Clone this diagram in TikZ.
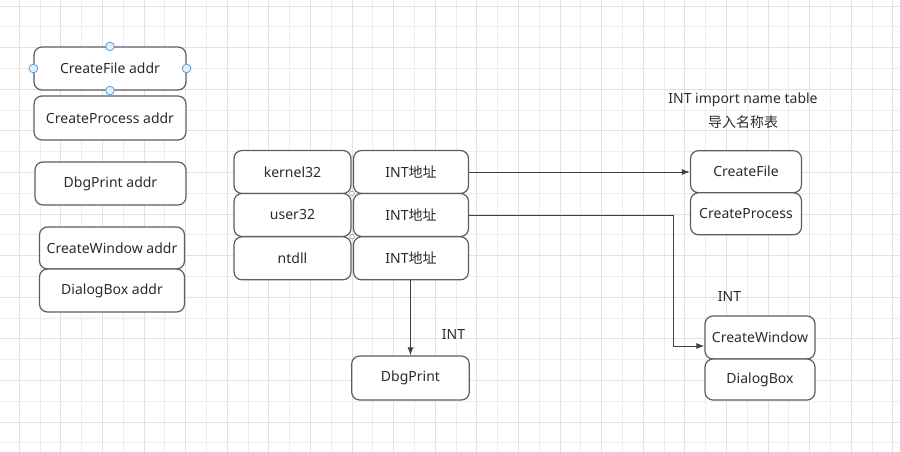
\documentclass[tikz,border=0pt]{standalone}
\usepackage{fontspec}
\setmainfont{Noto Sans}
\newfontfamily\cjk{Noto Sans CJK SC}
\usetikzlibrary{arrows.meta}
\definecolor{gridminor}{HTML}{EDEDED}
\definecolor{gridmajor}{HTML}{E1E1E1}
\definecolor{boxline}{HTML}{5C5C68}
\definecolor{txt}{HTML}{2B2B2B}
\definecolor{handle}{HTML}{5B9BD5}
\definecolor{handlefill}{HTML}{E3F0FC}
\begin{document}
\begin{tikzpicture}[x=0.75pt,y=-0.75pt,
  box/.style={draw=boxline, line width=0.9pt, rounded corners=6pt, fill=white, text=txt,
    font=\fontsize{10.5}{12}\selectfont, inner sep=0pt},
  sz/.style 2 args={minimum width=#1*0.75pt, minimum height=#2*0.75pt},
  conn/.style={draw=black!75, line width=0.7pt, -{Latex[length=6pt,width=4.5pt]}},
  lbl/.style={text=txt, font=\fontsize{10.5}{12}\selectfont, inner sep=0pt},
  hd/.style={circle, draw=handle, fill=handlefill, line width=0.6pt, minimum size=6.5pt, inner sep=0pt},
  cpt/.style={circle, draw=boxline!60, fill=white, line width=0.5pt, minimum size=3.5pt, inner sep=0pt}]
\useasboundingbox (0,0) rectangle (900,452);
\fill[white] (0,0) rectangle (900,452);
% grid
\foreach \k in {0,...,42}{
  \pgfmathsetmacro{\gx}{19.1+20.8*\k}
  \pgfmathtruncatemacro{\ev}{mod(\k,2)}
  \ifnum\ev=0 \draw[gridmajor, line width=0.6pt] (\gx,0) -- (\gx,452);
  \else \draw[gridminor, line width=0.6pt] (\gx,0) -- (\gx,452); \fi
}
\foreach \k in {0,...,21}{
  \pgfmathsetmacro{\gy}{6+20.8*\k}
  \pgfmathtruncatemacro{\ev}{mod(\k,2)}
  \ifnum\ev=0 \draw[gridmajor, line width=0.6pt] (0,\gy) -- (900,\gy);
  \else \draw[gridminor, line width=0.6pt] (0,\gy) -- (900,\gy); \fi
}
% left column
\node[box, sz={152}{43}] (lcf) at (110,68.5) {CreateFile addr};
\node[box, sz={152}{44}] (lcp) at (110,118) {CreateProcess addr};
\node[box, sz={151}{43}] (ldp) at (110.5,183.5) {DbgPrint addr};
\node[box, sz={145}{42}] (lcw) at (112,248) {CreateWindow addr};
\node[box, sz={145}{43}] (ldb) at (112,290.5) {DialogBox addr};
\node[hd] (h1) at (lcf.north) {};
\node[hd] (h2) at (lcf.south) {};
\node[hd] (h3) at (lcf.west) {};
\node[hd] (h4) at (lcf.east) {};
% middle table
\node[box, sz={117}{43}] (k32) at (292.5,172) {kernel32};
\node[box, sz={115}{43}] (kint) at (411,172) {INT{\cjk 地址}};
\node[box, sz={117}{43}] (u32) at (292.5,215) {user32};
\node[box, sz={115}{43}] (uint) at (411,215) {INT{\cjk 地址}};
\node[box, sz={117}{43}] (ntd) at (292.5,258.3) {ntdll};
\node[box, sz={115}{43}] (nint) at (411,258.3) {INT{\cjk 地址}};
\node[cpt] (c1) at (352,193.5) {};
\node[cpt] (c2) at (352,236.7) {};
% bottom
\node[box, sz={117.6}{44}] (dbg) at (410.5,378) {DbgPrint};
\node[lbl] (int1) at (453.5,335) {INT};
% right
\node[lbl] (ttl) at (743,100) {INT import name table};
\node[lbl] (ttl2) at (743,122.5) {\cjk 导入名称表};
\node[box, sz={111}{42}] (rcf) at (746,171.7) {CreateFile};
\node[box, sz={111}{42}] (rcp) at (746,213.8) {CreateProcess};
\node[lbl] (int2) at (729.5,297) {INT};
\node[box, sz={110}{43}] (rcw) at (760,337.5) {CreateWindow};
\node[box, sz={110}{41}] (rdb) at (760,379.5) {DialogBox};
% connectors
\draw[conn] (kint.east) -- (kint.east -| rcf.west);
\coordinate (t1) at (673,215);
\coordinate (t2) at (673,346);
\draw[conn] (uint.east) -- (t1) -- (t2) -- (t2 -| rcw.west);
\draw[conn] (nint.south -| dbg.north) -- (dbg.north);
\end{tikzpicture}
\end{document}
